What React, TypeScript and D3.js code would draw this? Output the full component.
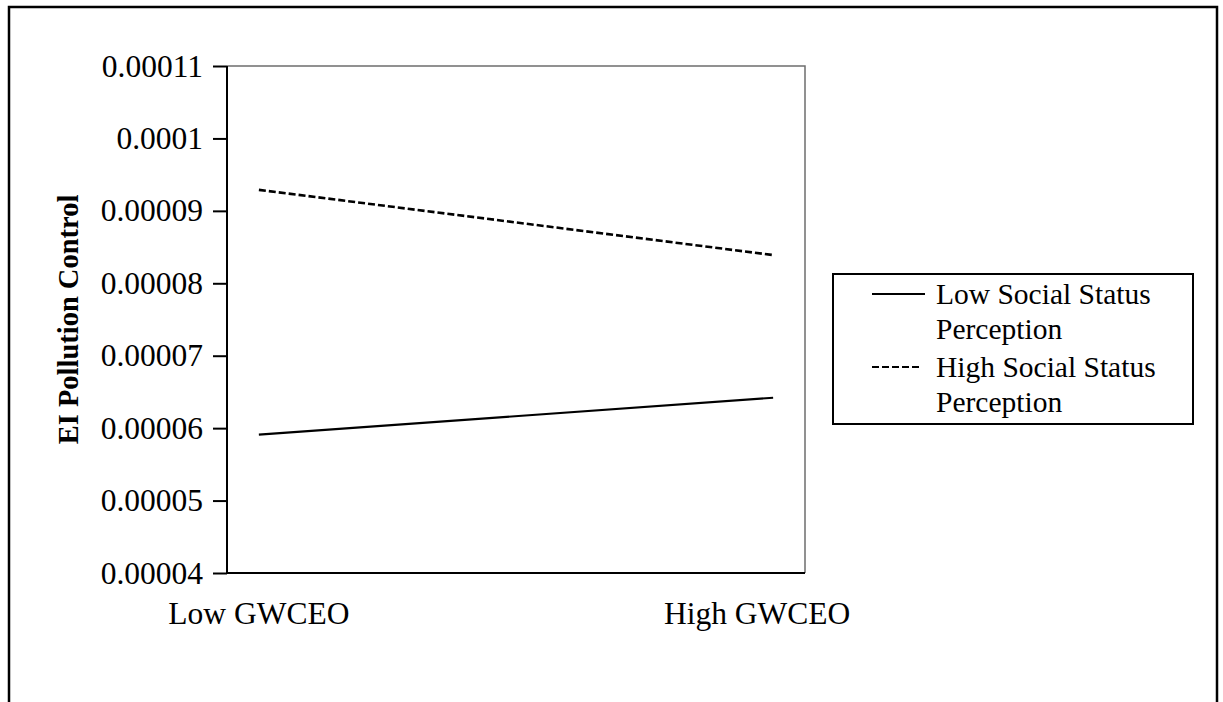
import React, { useEffect, useRef } from 'react';
import * as d3 from 'd3';

const categories = ['Low GWCEO', 'High GWCEO'];
const lowStatusValues = [0.0000591, 0.0000642];
const highStatusValues = [0.0000929, 0.0000839];
const yTickValues = [0.00004, 0.00005, 0.00006, 0.00007, 0.00008, 0.00009, 0.0001, 0.00011];
const yTickLabels = ['0.00004', '0.00005', '0.00006', '0.00007', '0.00008', '0.00009', '0.0001', '0.00011'];
const seriesNames = [['Low Social Status', 'Perception'], ['High Social Status', 'Perception']];

const FONT = '"Liberation Serif", "Times New Roman", serif';

export default function App() {
  const svgRef = useRef<SVGSVGElement>(null);

  useEffect(() => {
    const svg = d3.select(svgRef.current);
    svg.selectAll('*').remove();

    const W = 1223;
    const H = 702;
    const plot = { left: 227, top: 66, right: 805, bottom: 573 };

    svg.append('rect').attr('width', W).attr('height', H).attr('fill', '#fff');

    // outer frame (runs off the bottom of the picture)
    svg.append('rect')
      .attr('x', 9).attr('y', 7)
      .attr('width', 1208).attr('height', 740)
      .attr('fill', 'none').attr('stroke', '#000').attr('stroke-width', 2.5);

    const x = d3.scalePoint<string>()
      .domain(categories)
      .range([plot.left, plot.right])
      .padding(0.062);

    const y = d3.scaleLinear()
      .domain([0.00004, 0.00011])
      .range([plot.bottom, plot.top]);

    // gray top/right frame of plot area
    svg.append('path')
      .attr('d', `M${plot.left},${plot.top}H${plot.right}V${plot.bottom}`)
      .attr('fill', 'none').attr('stroke', '#6e6e6e').attr('stroke-width', 1.5);

    // y axis
    const yAxis = d3.axisLeft(y)
      .tickValues(yTickValues)
      .tickSize(14)
      .tickPadding(10)
      .tickFormat((_, i) => yTickLabels[i]);
    const gy = svg.append('g')
      .attr('transform', `translate(${plot.left},0)`)
      .call(yAxis);
    gy.select('.domain').attr('stroke', '#000').attr('stroke-width', 2)
      .attr('d', `M0,${plot.top}V${plot.bottom}`);
    gy.selectAll('.tick line').attr('stroke', '#000').attr('stroke-width', 2);
    gy.selectAll('.tick text')
      .attr('font-family', FONT).attr('font-size', 31.5).attr('fill', '#000');

    // x axis baseline
    svg.append('line')
      .attr('x1', plot.left).attr('x2', plot.right)
      .attr('y1', plot.bottom).attr('y2', plot.bottom)
      .attr('stroke', '#000').attr('stroke-width', 2);

    categories.forEach((c, i) => {
      svg.append('text')
        .attr('x', x(c)!)
        .attr('dx', i === 1 ? -16 : 0)
        .attr('y', 624)
        .attr('text-anchor', 'middle')
        .attr('font-family', FONT).attr('font-size', 31.5)
        .text(c);
    });

    // y title
    svg.append('text')
      .attr('transform', `translate(78,${(plot.top + plot.bottom) / 2}) rotate(-90)`)
      .attr('text-anchor', 'middle')
      .attr('font-family', FONT).attr('font-size', 28.5).attr('font-weight', 'bold')
      .text('EI Pollution Control');

    const line = d3.line<number>()
      .x((_, i) => x(categories[i])!)
      .y(d => y(d));

    svg.append('path')
      .datum(lowStatusValues)
      .attr('d', line)
      .attr('fill', 'none').attr('stroke', '#000').attr('stroke-width', 2.2);

    svg.append('path')
      .datum(highStatusValues)
      .attr('d', line)
      .attr('fill', 'none').attr('stroke', '#000').attr('stroke-width', 2.6)
      .attr('stroke-dasharray', '7,3');

    // legend
    const lg = svg.append('g');
    lg.append('rect')
      .attr('x', 833).attr('y', 274).attr('width', 360).attr('height', 150)
      .attr('fill', '#fff').attr('stroke', '#000').attr('stroke-width', 2);

    seriesNames.forEach((lines, i) => {
      const cy = 294 + i * 73;
      lg.append('line')
        .attr('x1', 872).attr('x2', i === 0 ? 925 : 922)
        .attr('y1', cy).attr('y2', cy)
        .attr('stroke', '#000').attr('stroke-width', 2)
        .attr('stroke-dasharray', i === 0 ? null : '7,3');
      lines.forEach((t, j) => {
        lg.append('text')
          .attr('x', 936)
          .attr('y', cy + 10 + j * 35)
          .attr('font-family', FONT).attr('font-size', 29.5)
          .text(t);
      });
    });
  }, []);

  return (
    <svg
      ref={svgRef}
      width={1223}
      height={702}
      style={{ position: 'absolute', left: 0, top: 0, display: 'block' }}
    />
  );
}
